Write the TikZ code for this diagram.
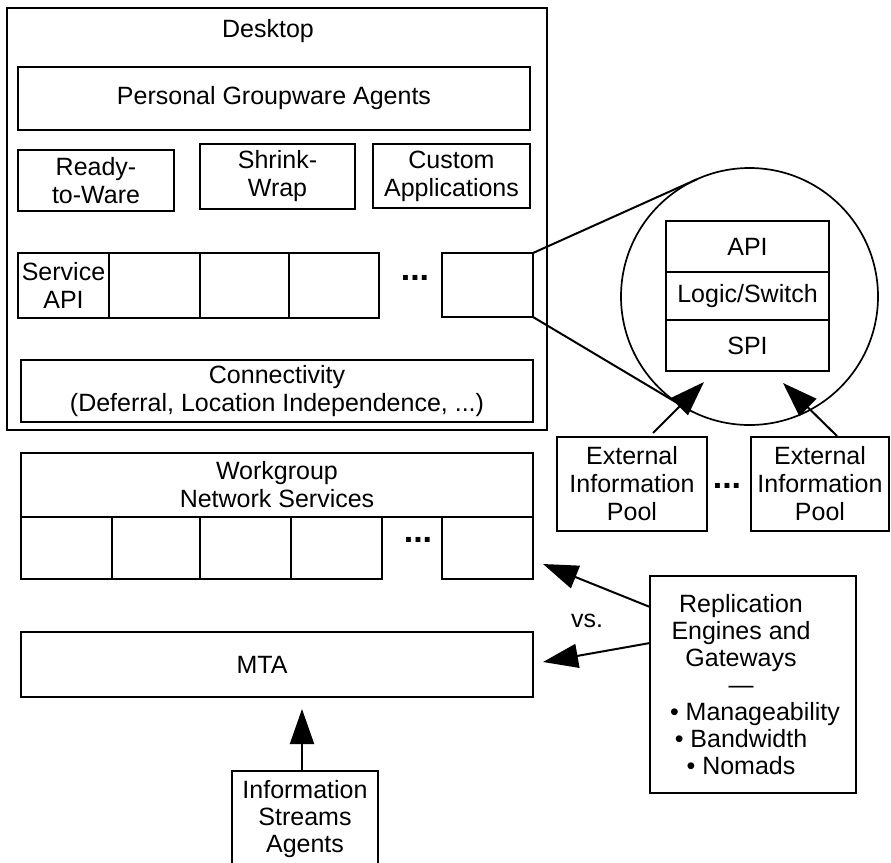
\documentclass[tikz,border=0pt]{standalone}
\usepackage{fontspec}
\setmainfont{Liberation Sans}
\usetikzlibrary{arrows.meta,calc}
\begin{document}
\begin{tikzpicture}[x=1pt,y=-1pt,
  font=\fontsize{25}{28}\selectfont,
  bx/.style={draw, line width=2pt, inner sep=0pt, outer sep=0pt, align=center},
  sz/.style 2 args={minimum width=#1pt, minimum height=#2pt},
  ln/.style={line width=2pt},
  arr/.style={line width=2pt, -{Triangle[length=35pt,width=24pt]}},
  dots/.style={inner sep=0pt, font=\fontsize{34}{34}\selectfont\bfseries}
]
\useasboundingbox (0,0) rectangle (891,862);

% Desktop
\node[bx, sz={540}{422}] (desk) at (277,219) {};
\node[inner sep=0pt] (desklbl) at (268,31) {Desktop};
\node[bx, sz={512}{63}] (pga) at (274,98.5) {Personal Groupware Agents};
\node[bx, sz={156}{61}] (rtw) at (96,180.5) {Ready-\\to-Ware};
\node[bx, sz={155}{65}] (sw) at (277.5,176.5) {Shrink-\\Wrap};
\node[bx, sz={157}{64}] (ca) at (451.5,176) {Custom\\Applications};

\node[bx, sz={91}{65}] (s1) at (63.5,285.5) {Service\\API};
\node[bx, sz={91}{65}] (s2) at (154.5,285.5) {};
\node[bx, sz={89}{65}] (s3) at (244.5,285.5) {};
\node[bx, sz={90}{65}] (s4) at (334,285.5) {};
\node[dots] (sdots) at (415,278) {...};
\node[bx, sz={91}{64}] (sl) at (487.5,285) {};

\node[bx, sz={512}{62}] (conn) at (277,391) {Connectivity\\(Deferral, Location Independence, ...)};

% Zoom circle
\node[circle, draw, line width=1.7pt, minimum size=257pt, inner sep=0pt, outer sep=0pt] (circ) at (749.5,296.5) {};
\node[bx, sz={163}{51}] (api) at (747.5,246.5) {API};
\node[bx, sz={163}{48}] (logic) at (747.5,296) {Logic/Switch};
\node[bx, sz={163}{51}] (spi) at (747.5,345.5) {SPI};

\draw[ln] (sl.north east) -- (tangent cs:node=circ, point={(sl.north east)}, solution=2);
\draw[ln] (sl.south east) -- (tangent cs:node=circ, point={(sl.south east)}, solution=1);

% External pools
\node[bx, sz={150}{94}] (ext1) at (632,484) {External\\Information\\Pool};
\node[bx, sz={138}{94}] (ext2) at (820,484) {External\\Information\\Pool};
\node[dots] (edots) at (727,486) {...};
\coordinate (tip1) at ($(circ.center)+(-45.5,85.5)$);
\coordinate (tip2) at ($(circ.center)+(33.5,86.5)$);
\draw[arr] ($(ext1.north)+(21,-4)$) -- (tip1);
\draw[arr] ($(ext2.north)+(17,-1)$) -- (tip2);

% Workgroup
\node[bx, sz={512}{64}] (wg) at (277,485) {Workgroup\\Network Services};
\node[bx, sz={91}{62}] (w1) at (66.5,548) {};
\node[bx, sz={88}{62}] (w2) at (156,548) {};
\node[bx, sz={91}{62}] (w3) at (245.5,548) {};
\node[bx, sz={91}{62}] (w4) at (336.5,548) {};
\node[dots] (wdots) at (418,540) {...};
\node[bx, sz={91}{62}] (wl) at (487.5,548) {};

% MTA
\node[bx, sz={512}{65}] (mta) at (277,664.5) {\hspace*{-30pt}MTA};

% Replication
\node[bx, sz={206}{217}] (rep) at (753,684.5) {};
\node[inner sep=0pt, align=center, font=\fontsize{25}{27}\selectfont] (reptxt) at (741,684.5) {Replication\\Engines and\\Gateways\\—\\\hspace*{28pt}• Manageability\\• Bandwidth\\• Nomads};
\node[inner sep=0pt] (vs) at (587,621) {vs.};
\coordinate (rt1) at ($(wl.east)+(10,16)$);
\coordinate (rt2) at ($(mta.east)+(10,-2.5)$);
\draw[arr] ($(rep.west)+(0,-77.5)$) -- (rt1);
\draw[arr] ($(rep.west)+(0,-41.5)$) -- (rt2);

% Information Streams Agents
\node[bx, sz={146}{96}, font=\fontsize{25}{27}\selectfont] (isa) at (305,819) {Information\\Streams\\Agents};
\draw[arr, shorten >=12pt] ($(isa.north)+(-3,0)$) -- ($(isa.north |- mta.south)+(-3,0)$);
\end{tikzpicture}
\end{document}
